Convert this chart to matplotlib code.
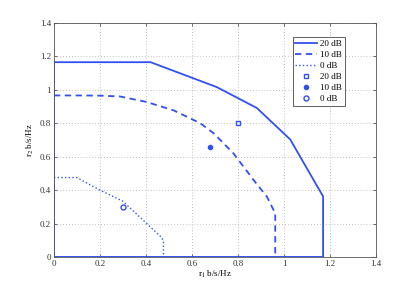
import matplotlib
matplotlib.use("Agg")
import matplotlib.pyplot as plt
import numpy as np

# rate region boundaries (r1, r2) in b/s/Hz
r1_20 = [0, 0, 0.42, 0.708, 0.882, 1.027, 1.17, 1.17, 0]
r2_20 = [0, 1.165, 1.165, 1.016, 0.891, 0.703, 0.362, 0, 0]

r1_10 = [0, 0.1, 0.2, 0.287, 0.403, 0.52, 0.636, 0.694, 0.78, 0.868, 0.926, 0.955, 0.962, 0.962]
r2_10 = [0.966, 0.966, 0.965, 0.96, 0.927, 0.877, 0.80, 0.74, 0.62, 0.46, 0.36, 0.28, 0.27, 0]

r1_0 = [0, 0.099, 0.2, 0.3, 0.4, 0.469, 0.476, 0.476]
r2_0 = [0.475, 0.475, 0.40, 0.333, 0.204, 0.115, 0.09, 0]

# achieved rate points
pt20 = (0.80, 0.80)
pt10 = (0.68, 0.66)
pt0 = (0.30, 0.30)

BLUE = "#3050f0"

plt.rcParams.update({
    "font.family": "Liberation Serif",
    "font.size": 6.5,
    "mathtext.fontset": "stix",
})

fig = plt.figure(figsize=(4.15, 2.9), dpi=100)
ax = fig.add_axes([0.130, 0.114, 0.776, 0.807])

ax.plot(r1_20, r2_20, "-", color=BLUE, lw=1.3, label="20 dB")
ax.plot(r1_10, r2_10, "--", color=BLUE, lw=1.3, dashes=(3.5, 2.5), label="10 dB")
ax.plot(r1_0, r2_0, ":", color=BLUE, lw=1.0, label="0 dB")
ax.plot(*pt20, "s", ms=3.2, mfc="white", mec=BLUE, mew=1.0, ls="none", label="20 dB")
ax.plot(*pt10, "o", ms=3.0, color=BLUE, ls="none", label="10 dB")
ax.plot(*pt0, "o", ms=3.6, mfc="white", mec=BLUE, mew=1.0, ls="none", label="0 dB")

ax.set_xlim(0, 1.4)
ax.set_ylim(0, 1.4)
ticks = np.arange(0, 1.41, 0.2)
ax.set_xticks(ticks)
ax.set_yticks(ticks)
fmt = lambda v: "0" if v == 0 else ("1" if abs(v - 1) < 1e-9 else f"{v:.1f}")
ax.set_xticklabels([fmt(t) for t in ticks])
ax.set_yticklabels([fmt(t) for t in ticks])
ax.tick_params(direction="in", length=2.5, width=0.5, colors="#333333",
               top=True, right=True, pad=2, labelsize=6.5)
ax.grid(True, linestyle=(0, (1, 2.5)), color="#aaaaaa", linewidth=0.6)
for s in ax.spines.values():
    s.set_color("#555555")
    s.set_linewidth(0.6)

ax.set_xlabel(r"r$_1$ b/s/Hz", fontsize=6.5, labelpad=1)
ax.set_ylabel(r"r$_2$ b/s/Hz", fontsize=6.5, labelpad=3)

leg = ax.legend(loc="upper right", bbox_to_anchor=(0.904, 0.94), fontsize=6.5,
                fancybox=False, framealpha=1, edgecolor="#444444",
                handlelength=2.4, handletextpad=0.4, borderpad=0.3,
                borderaxespad=0, labelspacing=0.3)
leg.get_frame().set_linewidth(0.6)

fig.savefig("out.png", dpi=100)
